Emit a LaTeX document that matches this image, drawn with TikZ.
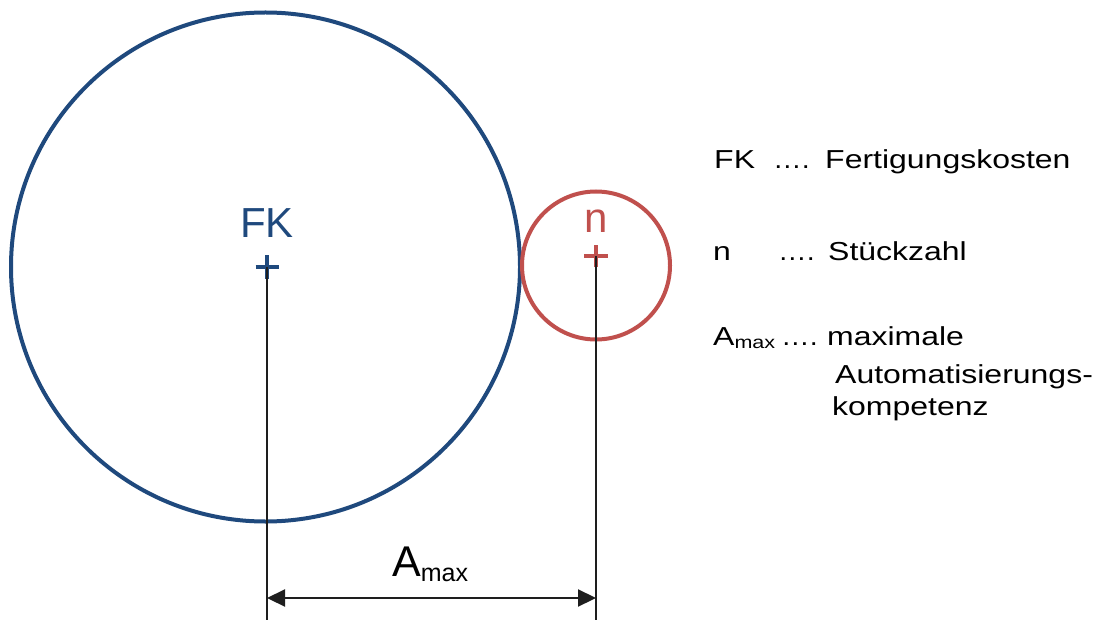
\documentclass[tikz,border=0pt]{standalone}
\usepackage{fontspec}
\setmainfont{Liberation Sans}
\newfontfamily\lf[FakeStretch=1.23]{Liberation Sans}
\newfontfamily\dotsf[FakeStretch=1.1]{Liberation Sans}
\usetikzlibrary{arrows.meta}
\definecolor{fkblue}{RGB}{31,73,125}
\definecolor{nred}{RGB}{192,80,77}
\definecolor{dimgrey}{RGB}{30,30,30}
\tikzset{
  ring/.style={circle, draw, line width=4pt, inner sep=0pt},
  cross/.style={line width=3.8pt},
  dimline/.style={dimgrey, line width=1.6pt},
  dimarrow/.style={dimgrey, line width=2.2pt, {Triangle[length=18pt,width=17pt]}-{Triangle[length=18pt,width=17pt]}},
  bigtext/.style={inner sep=0pt, anchor=base, font=\fontsize{42}{50}\selectfont},
  legend/.style={inner sep=0pt, anchor=base west, font=\lf\fontsize{26}{31}\selectfont},
  legdots/.style={inner sep=0pt, anchor=base west, font=\dotsf\fontsize{26}{31}\selectfont}
}
\begin{document}
\begin{tikzpicture}[x=1pt,y=-1pt]
\useasboundingbox (0,0) rectangle (1102,620);
% circles
\node[ring, fkblue, minimum size=509pt] (fkc) at (265.5,267) {};
\node[ring, nred, minimum size=148pt] (nc) at (596,265.5) {};
% centre marks
\coordinate (fkp) at (267,267);
\coordinate (np) at (596,256);
\draw[cross, fkblue] ([xshift=-11.5pt]fkp) -- ([xshift=11.5pt]fkp);
\draw[cross, fkblue] ([yshift=-11.5pt]fkp) -- ([yshift=11.5pt]fkp);
\draw[cross, nred] ([xshift=-12pt]np) -- ([xshift=12pt]np);
\draw[cross, nred] ([yshift=-11pt]np) -- ([yshift=11pt]np);
% labels
\node[bigtext, fkblue] (fkl) at (267,238) {FK};
\node[bigtext, nred] (nl) at (596,233) {n};
% dimension lines
\coordinate (fkb) at (267,620);
\coordinate (nb) at (596,620);
\draw[dimline] (fkp) -- (fkb);
\draw[dimline] (np) -- (nb);
\coordinate (al) at (267,598);
\coordinate (ar) at (596,598);
\draw[dimarrow] (al) -- (ar);
\node[inner sep=0pt, anchor=base west] (amax) at (392,576)
  {\fontsize{43}{50}\selectfont A\raisebox{-5pt}{\fontsize{25}{30}\selectfont max}};
% legend
\node[legend] (l1a) at (714,169) {FK};
\node[legdots] (l1b) at (773,169) {….};
\node[legend] (l1c) at (825,169) {Fertigungskosten};
\node[legend] (l2a) at (713,260) {n};
\node[legdots] (l2b) at (778,260) {….};
\node[legend] (l2c) at (828,260) {Stückzahl};
\node[legend] (l3a) at (713,345) {A\raisebox{-3pt}{\fontsize{17.5}{20}\selectfont max}};
\node[legdots] (l3b) at (781,345) {….};
\node[legend] (l3c) at (827,345) {maximale};
\node[legend] (l4) at (835,383) {Automatisierungs-};
\node[legend] (l5) at (832,415) {kompetenz};
\end{tikzpicture}
\end{document}
